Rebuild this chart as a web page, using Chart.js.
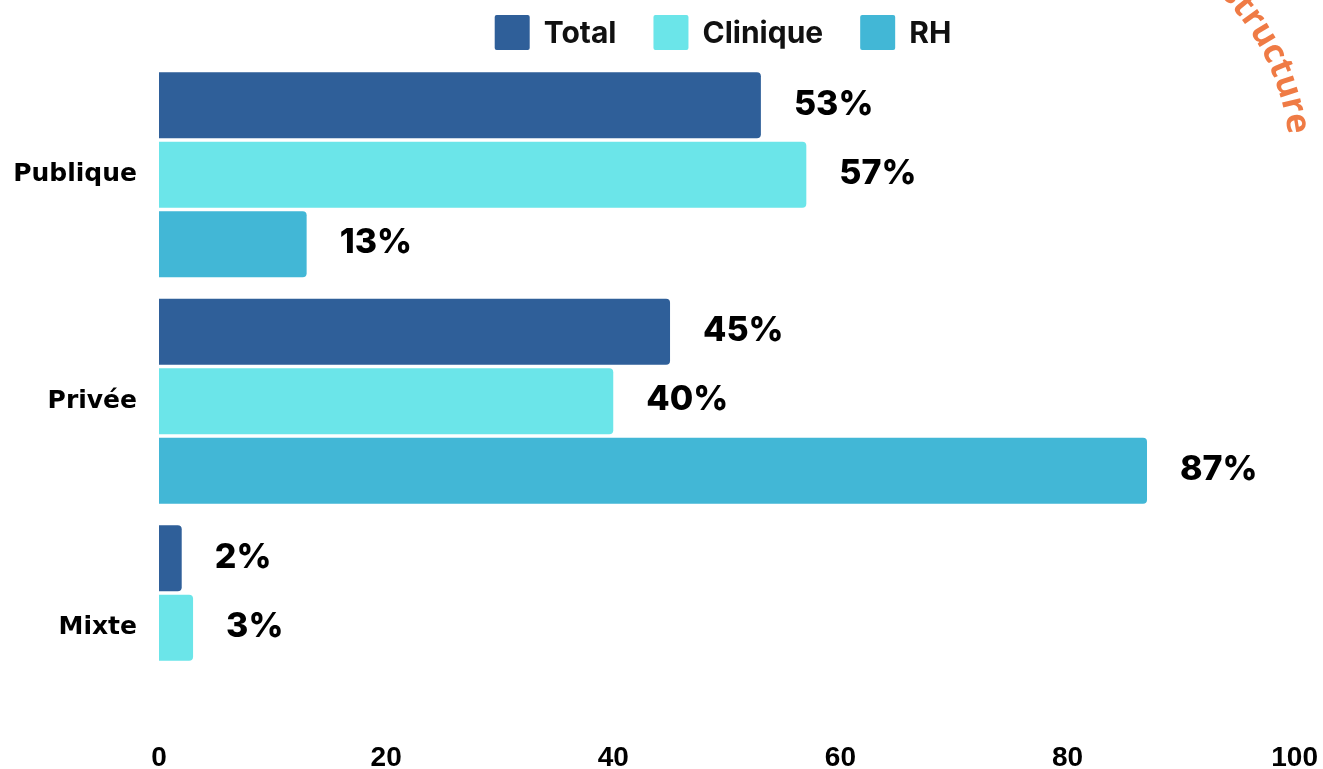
<!DOCTYPE html>
<html><head><meta charset="utf-8">
<script src="https://cdn.jsdelivr.net/npm/chart.js@4"></script>
<style>html,body{margin:0;padding:0;background:#fff}#wrap{width:1323px;height:769px;position:relative}</style>
</head><body><div id="wrap"><canvas id="c" width="1323" height="769"></canvas></div>
<script>
const categories = ["Publique", "Privée", "Mixte"];
const seriesNames = ["Total", "Clinique", "RH"];
const totalValues = [53, 45, 2];
const cliniqueValues = [57, 40, 3];
const rhValues = [13, 87, null];
const xTicks = [0, 20, 40, 60, 80, 100];
const cornerTitle = "de structure";

const colors = ["#2F5F99", "#6BE5E9", "#42B7D6"];

const valueLabels = {
  id: 'valueLabels',
  afterDatasetsDraw(chart) {
    const ctx = chart.ctx;
    ctx.save();
    ctx.font = "800 34px Inter, 'Noto Sans', sans-serif";
    ctx.fillStyle = "#000";
    ctx.textBaseline = "middle";
    ctx.textAlign = "left";
    chart.data.datasets.forEach((ds, di) => {
      const meta = chart.getDatasetMeta(di);
      meta.data.forEach((bar, i) => {
        const v = ds.data[i];
        if (v === null || v === undefined) return;
        ctx.fillText(v + "%", bar.x + 33, bar.y - 1);
      });
    });
    ctx.restore();
  }
};

const customLegend = {
  id: 'customLegend',
  afterDraw(chart) {
    const ctx = chart.ctx;
    ctx.save();
    ctx.font = "bold 30px Inter, 'Noto Sans', sans-serif";
    ctx.textBaseline = "middle";
    ctx.textAlign = "left";
    const box = 35, gapText = 14, gapItem = 37;
    const items = chart.data.datasets.map((ds, i) => ({ text: ds.label, color: ds.backgroundColor, w: box + gapText + ctx.measureText(ds.label).width }));
    const total = items.reduce((s, it) => s + it.w, 0) + gapItem * (items.length - 1);
    let x = 723 - total / 2;
    const top = 15;
    items.forEach(it => {
      ctx.fillStyle = it.color;
      ctx.beginPath();
      ctx.roundRect(x, top, box, box, 2);
      ctx.fill();
      ctx.fillStyle = "#111";
      ctx.fillText(it.text, x + box + gapText, top + box / 2 + 1);
      x += it.w + gapItem;
    });
    ctx.restore();
  }
};

const arcText = {
  id: 'arcText',
  afterDraw(chart) {
    const ctx = chart.ctx;
    ctx.save();
    ctx.font = "bold 34px 'Open Sans', sans-serif";
    ctx.fillStyle = "#EF7B45";
    ctx.textBaseline = "alphabetic";
    const cx = 1050, cy = 164, R = 240;
    let ang = -7 * Math.PI / 180;
    const chars = cornerTitle.split("");
    for (let k = chars.length - 1; k >= 0; k--) {
      const w = ctx.measureText(chars[k]).width;
      const a = ang - (w / 2) / R;
      const x = cx + R * Math.cos(a), y = cy + R * Math.sin(a);
      ctx.save();
      ctx.translate(x, y);
      ctx.rotate(a + Math.PI / 2);
      ctx.textAlign = "center";
      ctx.fillText(chars[k], 0, 0);
      ctx.restore();
      ang -= w / R;
    }
    ctx.restore();
  }
};

new Chart(document.getElementById('c'), {
  type: 'bar',
  data: {
    labels: categories,
    datasets: [
      { label: seriesNames[0], data: totalValues, backgroundColor: colors[0] },
      { label: seriesNames[1], data: cliniqueValues, backgroundColor: colors[1] },
      { label: seriesNames[2], data: rhValues, backgroundColor: colors[2] }
    ]
  },
  options: {
    indexAxis: 'y',
    responsive: false,
    animation: false,
    maintainAspectRatio: false,
    layout: { padding: { top: 61.5, right: 25, bottom: 0, left: 0 } },
    datasets: { bar: { categoryPercentage: 0.92, barPercentage: 0.95, borderRadius: 4, borderSkipped: 'start' } },
    scales: {
      x: {
        min: 0, max: 100,
        afterBuildTicks(scale) { scale.ticks = xTicks.map(v => ({ value: v })); },
        afterFit(scale) { scale.height = 28; },
        grid: { display: false, drawTicks: false },
        border: { display: false },
        ticks: { color: "#000", font: { family: "'Liberation Sans Narrow', sans-serif", weight: 'bold', size: 28, lineHeight: 0.85 }, padding: 5 }
      },
      y: {
        grid: { display: false, drawTicks: false },
        border: { display: false },
        afterFit(scale) { scale.width = 159; },
        ticks: { color: "#000", font: { family: "'DejaVu Sans', sans-serif", weight: 'bold', size: 25, lineHeight: 0.1 }, padding: 22 }
      }
    },
    plugins: {
      legend: { display: false },
      tooltip: { enabled: false }
    }
  },
  plugins: [valueLabels, customLegend, arcText]
});
</script></body></html>
